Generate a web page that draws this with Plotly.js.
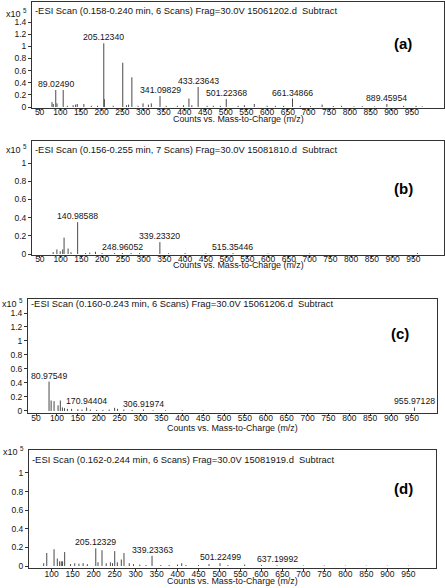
<!DOCTYPE html>
<html>
<head>
<meta charset="utf-8">
<script src="https://cdn.plot.ly/plotly-3.0.1.min.js"></script>
<style>
  html, body { margin: 0; padding: 0; background: #fff; }
  #chart { width: 445px; height: 588px; }
</style>
</head>
<body>
<div id="chart"></div>
<script>
const mzA = [80, 83, 89.0249, 92, 107, 117, 131, 137, 141, 157, 175, 190, 205.1234, 206.5, 228,
  251, 260, 265, 273, 288, 300, 313, 320, 341.09829, 356, 383, 398, 411, 418, 433.23643,
  455, 470, 487, 501.22368, 530, 545, 569, 600, 620, 640, 661.34866, 680, 705, 733, 760,
  780, 810, 830, 860, 889.45954, 930, 960, 975];
const intA = [0.08, 0.05, 0.28, 0.06, 0.28, 0.02, 0.03, 0.04, 0.05, 0.05, 0.02, 0.02, 1.05, 0.13, 0.02,
  0.73, 0.03, 0.04, 0.49, 0.02, 0.06, 0.04, 0.06, 0.18, 0.02, 0.02, 0.03, 0.14, 0.03, 0.33,
  0.02, 0.02, 0.02, 0.13, 0.02, 0.03, 0.05, 0.02, 0.02, 0.02, 0.14, 0.02, 0.015, 0.04, 0.015,
  0.02, 0.01, 0.015, 0.01, 0.05, 0.02, 0.02, 0.01];
const labA = [89.0249, 205.1234, 341.09829, 433.23643, 501.22368, 661.34866, 889.45954];

const mzB = [82, 91, 99, 105, 108.3, 118, 125, 140.98588, 160, 170, 184, 200, 230, 248.96052,
  270, 290, 339.2332, 360, 400, 450, 515.35446, 600, 700, 960];
const intB = [0.02, 0.05, 0.03, 0.05, 0.18, 0.06, 0.02, 0.35, 0.01, 0.015, 0.025, 0.01, 0.01, 0.01,
  0.01, 0.01, 0.13, 0.008, 0.01, 0.008, 0.01, 0.005, 0.005, 0.01];
const labB = [140.98588, 248.96052, 339.2332, 515.35446];

const mzC = [80.97549, 86, 93, 102.6, 108, 113, 118, 125, 135, 150, 160, 170.94404, 180, 195, 210,
  225, 238, 245, 260, 280, 306.91974, 330, 360, 400, 450, 500, 600, 700, 800, 900, 955.97128];
const intC = [0.42, 0.15, 0.14, 0.08, 0.15, 0.05, 0.04, 0.03, 0.03, 0.025, 0.02, 0.05, 0.02, 0.015, 0.015,
  0.02, 0.045, 0.03, 0.02, 0.015, 0.02, 0.01, 0.01, 0.008, 0.006, 0.005, 0.004, 0.004, 0.004, 0.004, 0.05];
const labC = [80.97549, 170.94404, 306.91974, 955.97128];

const mzD = [81, 88.3, 105.7, 113.5, 119, 123, 126, 131, 145, 155, 165, 175, 185, 205.12329, 210.5,
  220, 230, 240, 245, 250.3, 256.5, 266, 272.4, 285, 295, 310, 325, 339.23363, 360, 380,
  400, 410, 420, 450, 475, 501.22499, 520, 560, 600, 637.19992, 700, 750, 800, 850, 900, 950];
const intD = [0.03, 0.14, 0.18, 0.08, 0.05, 0.05, 0.05, 0.15, 0.02, 0.03, 0.025, 0.03, 0.02, 0.19, 0.04,
  0.17, 0.03, 0.04, 0.03, 0.16, 0.04, 0.07, 0.14, 0.03, 0.02, 0.015, 0.01, 0.11, 0.01, 0.01,
  0.015, 0.03, 0.01, 0.01, 0.02, 0.03, 0.01, 0.015, 0.01, 0.008, 0.005, 0.005, 0.004, 0.004, 0.004, 0.004];
const labD = [205.12329, 339.23363, 501.22499, 637.19992];

const headers = [
  '-ESI Scan (0.158-0.240 min, 6 Scans) Frag=30.0V 15061202.d \u00a0Subtract',
  '-ESI Scan (0.156-0.255 min, 7 Scans) Frag=30.0V 15081810.d \u00a0Subtract',
  '-ESI Scan (0.160-0.243 min, 6 Scans) Frag=30.0V 15061206.d \u00a0Subtract',
  '-ESI Scan (0.162-0.244 min, 6 Scans) Frag=30.0V 15081919.d \u00a0Subtract'
];
const tags = ['(a)', '(b)', '(c)', '(d)'];

const xTicks = [50, 100, 150, 200, 250, 300, 350, 400, 450, 500, 550, 600, 650, 700, 750, 800, 850, 900, 950];
const xTicksD = [100, 150, 200, 250, 300, 350, 400, 450, 500, 550, 600, 650, 700, 750, 800, 850, 900, 950];
const yTicksTall = [0, 0.2, 0.4, 0.6, 0.8, 1, 1.2, 1.4];
const yTicksShort = [0, 0.2, 0.4, 0.6, 0.8, 1];

// ── geometría (px) de cada recuadro ──
const W = 445, H = 588;
const FONT = 'Liberation Sans, Arial, sans-serif';
const INK = '#151515';
const fx = v => v / W;
const fy = v => 1 - v / H;

const panels = [
  { mz: mzA, it: intA, lab: labA, box: [32, 444, 2, 108],   xr: [31.6, 1027.6], yr: [-0.016, 1.73],  xt: xTicks,  yt: yTicksTall,  stand: -6, headY: 11,  expY: 12.5, tag: [403, 43],  titleY: 118.5 },
  { mz: mzB, it: intB, lab: labB, box: [32, 444, 141, 255], xr: [31, 1024],     yr: [-0.011, 1.242], xt: xTicks,  yt: yTicksShort, stand: -6, headY: 150, expY: 149.5, tag: [403, 188], titleY: 265.5 },
  { mz: mzC, it: intC, lab: labC, box: [28, 437, 299, 413], xr: [30.6, 1010],   yr: [-0.029, 1.6],   xt: xTicks,  yt: yTicksTall,  stand: -5, headY: 303, expY: 302.7, tag: [400, 333], titleY: 428 },
  { mz: mzD, it: intD, lab: labD, box: [29, 436, 450, 568], xr: [46, 1016],     yr: [-0.0215, 1.247], xt: xTicksD, yt: yTicksShort, stand: -4, headY: 459, expY: 451,  tag: [403, 488], titleY: 580.5 }
];

const traces = [];
const annotations = [];
const layout = {
  width: W, height: H,
  margin: { l: 0, r: 0, t: 0, b: 0 },
  paper_bgcolor: '#fff', plot_bgcolor: '#fff',
  showlegend: false,
  font: { family: FONT, color: INK, size: 8.5 },
  annotations
};

panels.forEach((p, i) => {
  const n = i === 0 ? '' : String(i + 1);
  const [l, r, t, b] = p.box;

  // líneas verticales (espectro de barras)
  const x = [], y = [];
  p.mz.forEach((m, k) => { x.push(m, m, null); y.push(0, p.it[k], null); });
  traces.push({
    x, y, type: 'scatter', mode: 'lines', xaxis: 'x' + n, yaxis: 'y' + n,
    line: { color: '#4a4a4a', width: 1 }, hoverinfo: 'skip'
  });

  layout['xaxis' + n] = {
    domain: [fx(l), fx(r)], range: p.xr, anchor: 'y' + n,
    tickvals: p.xt, ticks: 'outside', ticklen: 2, tickcolor: '#333',
    ticklabelstandoff: p.stand,
    showline: true, linecolor: '#333', linewidth: 1, mirror: true,
    showgrid: false, zeroline: false, tickfont: { size: 8.5, family: FONT, color: INK }
  };
  layout['yaxis' + n] = {
    domain: [fy(b), fy(t)], range: p.yr, anchor: 'x' + n,
    tickvals: p.yt, ticks: 'outside', ticklen: 3, tickcolor: '#333',
    showline: true, linecolor: '#333', linewidth: 1, mirror: true,
    showgrid: false, zeroline: false, tickfont: { size: 8.5, family: FONT, color: INK }
  };

  // etiquetas de picos
  p.lab.forEach(m => {
    const k = p.mz.indexOf(m);
    annotations.push({
      x: m, y: p.it[k], xref: 'x' + n, yref: 'y' + n,
      text: m.toFixed(5), showarrow: false, yanchor: 'bottom', yshift: -1,
      font: { size: 8.7, family: FONT, color: INK }
    });
  });

  // cabecera, exponente, título y etiqueta del panel
  annotations.push({
    x: fx(l + 1), y: fy(p.headY), xref: 'paper', yref: 'paper',
    xanchor: 'left', yanchor: 'middle', showarrow: false,
    text: headers[i], font: { size: 9.4, family: FONT, color: INK }
  });
  annotations.push({
    x: fx(l - 3), y: fy(p.expY), xref: 'paper', yref: 'paper',
    xanchor: 'right', yanchor: 'middle', showarrow: false,
    text: 'x10 <sup>5</sup>', font: { size: 9, family: FONT, color: INK }
  });
  annotations.push({
    x: fx((l + r) / 2), y: fy(p.titleY), xref: 'paper', yref: 'paper',
    xanchor: 'center', yanchor: 'middle', showarrow: false,
    text: 'Counts vs. Mass-to-Charge (m/z)', font: { size: 8.9, family: FONT, color: INK }
  });
  annotations.push({
    x: fx(p.tag[0]), y: fy(p.tag[1]), xref: 'paper', yref: 'paper',
    xanchor: 'center', yanchor: 'middle', showarrow: false,
    text: '<b>' + tags[i] + '</b>', font: { size: 15, family: FONT, color: '#000' }
  });
});

Plotly.newPlot('chart', traces, layout, { staticPlot: true, displayModeBar: false });
</script>
</body>
</html>
